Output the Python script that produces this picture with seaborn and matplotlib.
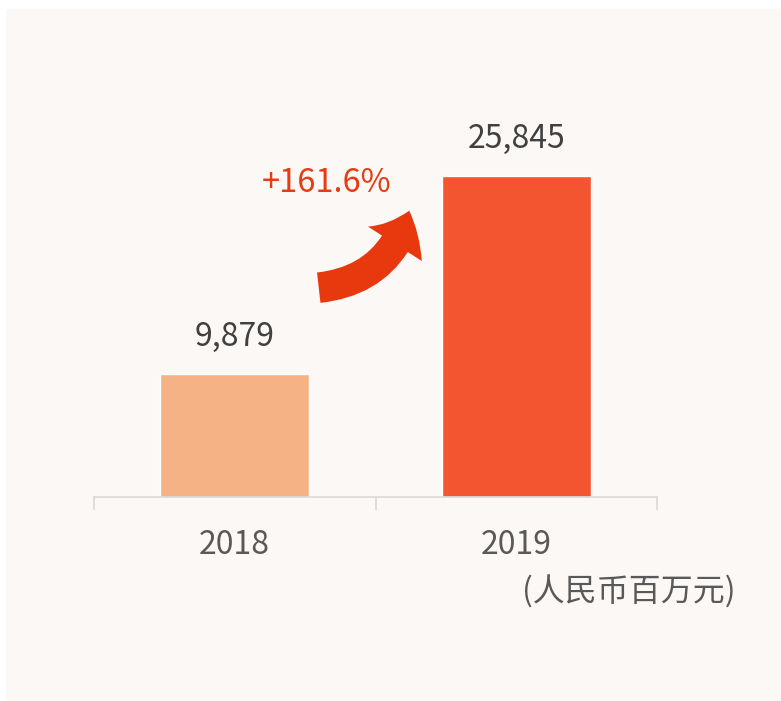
import matplotlib
matplotlib.use("Agg")
import matplotlib.pyplot as plt
import seaborn as sns
import pandas as pd
from matplotlib.patches import Rectangle, FancyArrowPatch

# data
years  = ["2018", "2019"]
values = [9879, 25845]
colors = ["#f5b385", "#f2552f"]
growth_label = "+161.6%"
unit_label   = "(人民币百万元)"

sns.set_theme(style="white")
plt.rcParams["font.family"] = ["Noto Sans CJK SC", "DejaVu Sans"]

df = pd.DataFrame({"year": years, "value": values})

fig = plt.figure(figsize=(7.81, 7.01), dpi=100, facecolor="white")
# light panel behind the chart
fig.patches.append(Rectangle((6 / 781, 0), 1, 1 - 9 / 701, transform=fig.transFigure,
                             facecolor="#fcf8f5", edgecolor="none", zorder=-5))

ax = fig.add_axes([94 / 781, 204 / 701, 563 / 781, 368 / 701])
ax.set_facecolor("none")
ax.set_zorder(2)

sns.barplot(data=df, x="year", y="value", hue="year", palette=colors,
            legend=False, width=0.53, saturation=1, ax=ax)

ax.set_xlim(-0.5, 1.5)
ax.set_ylim(0, 29600)

# value labels above bars
for i, v in enumerate(values):
    ax.annotate(f"{v:,}", (i, v), xytext=(0, 15), textcoords="offset points",
                ha="center", va="bottom", fontsize=23, color="#404040",
                annotation_clip=False)

for s in ["top", "right", "left"]:
    ax.spines[s].set_visible(False)
ax.spines["bottom"].set_color("#d9d9d9")
ax.spines["bottom"].set_linewidth(1.2)
ax.set_yticks([])
ax.set_xlabel("")
ax.set_ylabel("")

# ticks at category boundaries
ax.set_xticks([-0.5, 0.5, 1.5], minor=True)
ax.tick_params(axis="x", which="minor", length=9, width=1.2, color="#d9d9d9",
               direction="out", bottom=True)
ax.tick_params(axis="x", which="major", length=0, pad=23, labelsize=23,
               labelcolor="#595959")

# growth arrow and label
arrow = FancyArrowPatch((316 / 781, 1 - 288 / 701), (410 / 781, 1 - 208 / 701),
                        transform=fig.transFigure,
                        connectionstyle="arc3,rad=0.35",
                        arrowstyle="simple,head_length=1.3,head_width=2.3,tail_width=1.1",
                        mutation_scale=20, color="#e8380d", lw=0, zorder=3)
fig.patches.append(arrow)
fig.text(327 / 781, 1 - 183 / 701, growth_label, ha="center", va="center",
         fontsize=23.5, color="#e63c14")

fig.text(629 / 781, 1 - 592 / 701, unit_label, ha="center", va="center",
         fontsize=23, color="#595959")

fig.savefig("out.png", dpi=100, facecolor=fig.get_facecolor())
